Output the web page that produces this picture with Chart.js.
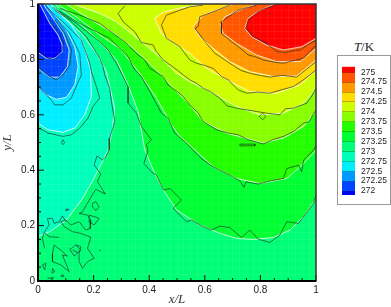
<!DOCTYPE html>
<html>
<head>
<meta charset="utf-8">
<script src="https://cdn.jsdelivr.net/npm/chart.js@4"></script>
<style>
  html, body { margin: 0; padding: 0; background: #fff; }
  #wrap { position: relative; width: 391px; height: 307px; overflow: hidden; }
  #plot { position: absolute; left: 0; top: 0; }
  #bar { position: absolute; left: 337px; top: 56px; }
  #frame { position: absolute; left: 337px; top: 55px; width: 52px; height: 148px; border: 1px solid #999; }
  #unit { position: absolute; left: 337px; top: 39px; width: 54px; text-align: center; font: 13px "Liberation Serif", serif; color: #222; }
</style>
</head>
<body>
<div id="wrap">
  <canvas id="plot" width="325" height="307"></canvas>
  <div id="unit"><i>T</i>/K</div>
  <div id="frame"></div>
  <canvas id="bar" width="54" height="148"></canvas>
</div>
<script>
const axisLabels = ["0", "0.2", "0.4", "0.6", "0.8", "1"];
const levels = [275, 274.75, 274.5, 274.25, 274, 273.75, 273.5, 273.25, 273, 272.75, 272.5, 272.25, 272];
const levelLabels = ["275", "274.75", "274.5", "274.25", "274", "273.75", "273.5", "273.25", "273", "272.75", "272.5", "272.25", "272"];
const bandColors = ["#ff0000", "#ff5500", "#ff9900", "#ffdd00", "#ccff00", "#88ff00", "#22ff00", "#00ff33", "#00ff77", "#00ffbb", "#00eeff", "#0099ff", "#0044ff", "#0000ff"];

// smooth contours, warm side, from the top edge to the right edge
const w275 = [[.853,1],[.8,.978],[.756,.948],[.744,.912],[.768,.882],[.822,.852],[.883,.834],[.949,.846],[1,.876]];
const w27475 = [[.786,1],[.726,.978],[.672,.954],[.657,.924],[.666,.894],[.714,.858],[.786,.816],[.858,.792],[.943,.792],[1,.84]];
const w2745 = [[.702,1],[.642,.978],[.594,.96],[.558,.918],[.582,.882],[.63,.84],[.69,.792],[.762,.756],[.847,.738],[.931,.74],[1,.798]];
const w27425 = [[.6,1],[.51,.985],[.45,.97],[.42,.948],[.444,.894],[.474,.868],[.546,.822],[.606,.768],[.69,.72],[.762,.684],[.858,.678],[.943,.708],[1,.762]];
const w274 = [[.126,1],[.222,.966],[.282,.936],[.342,.888],[.438,.81],[.498,.75],[.546,.72],[.63,.678],[.714,.63],[.798,.6],[.883,.606],[.955,.642],[1,.696]];
const w27375 = [[.1,1],[.222,.924],[.282,.888],[.342,.84],[.426,.762],[.498,.684],[.546,.636],[.594,.576],[.678,.534],[.81,.498],[.883,.516],[.955,.558],[1,.612]];
const w2735 = [[.07,1],[.15,.945],[.222,.888],[.294,.84],[.366,.75],[.426,.66],[.48,.564],[.51,.522],[.546,.49],[.63,.412],[.714,.37],[.798,.352],[.895,.37],[.955,.424],[1,.472]];
const w27325 = [[.06,1],[.15,.93],[.222,.864],[.282,.798],[.324,.708],[.36,.612],[.384,.473],[.415,.4],[.451,.328],[.499,.256],[.582,.202],[.654,.172],[.714,.154],[.775,.15],[.847,.157],[.907,.184],[.955,.232],[1,.298]];
// smooth contours, cold side, from the left edge to the top edge
const w273 = [[0,.16],[.042,.178],[.102,.22],[.156,.292],[.198,.364],[.228,.424],[.252,.472],[.268,.55],[.276,.624],[.246,.756],[.21,.822],[.156,.894],[.096,.948],[.048,1]];
const w27275 = [[0,.57],[.036,.546],[.09,.537],[.132,.552],[.168,.6],[.192,.666],[.189,.762],[.162,.858],[.12,.924],[.078,.966],[.042,1]];
const w2725 = [[0,.7],[.03,.672],[.066,.656],[.102,.663],[.132,.708],[.144,.774],[.132,.846],[.102,.906],[.066,.954],[.03,1]];
const w27225 = [[0,.768],[.042,.736],[.078,.736],[.106,.774],[.112,.834],[.09,.894],[.054,.948],[.018,1]];
const w272 = [[0,.825],[.03,.804],[.06,.804],[.087,.828],[.087,.852],[.072,.888],[.042,.93],[.006,1]];

// jagged contours
const d275 = [[.853,.996],[.8,.978],[.756,.943],[.748,.912],[.775,.882],[.822,.858],[.859,.828],[.889,.825],[.925,.832],[.943,.834],[.975,.855],[1,.87]];
const d27475 = [[.786,.996],[.72,.978],[.66,.936],[.66,.894],[.696,.864],[.72,.846],[.756,.816],[.78,.81],[.81,.798],[.85,.79],[.883,.786],[.92,.796],[.955,.804],[1,.852]];
const d2745 = [[.69,.996],[.63,.972],[.582,.954],[.576,.918],[.564,.912],[.606,.858],[.636,.822],[.66,.806],[.708,.774],[.73,.76],[.762,.75],[.8,.742],[.834,.736],[.88,.742],[.931,.736],[.96,.76],[1,.792]];
const d27425 = [[.594,.996],[.546,.99],[.462,.96],[.444,.924],[.462,.876],[.51,.846],[.546,.798],[.57,.786],[.6,.778],[.63,.768],[.66,.738],[.684,.726],[.72,.69],[.75,.678],[.79,.682],[.834,.678],[.875,.69],[.919,.702],[.96,.73],[1,.762]];
const d274 = [[.312,.993],[.288,.966],[.306,.936],[.348,.9],[.372,.861],[.414,.852],[.426,.828],[.45,.798],[.492,.768],[.546,.726],[.57,.714],[.594,.696],[.62,.684],[.654,.66],[.68,.632],[.714,.624],[.75,.618],[.786,.612],[.822,.606],[.87,.6],[.89,.622],[.919,.624],[.945,.634],[.967,.642],[.985,.668],[1,.696]];
const d27375 = [[.078,.984],[.15,.96],[.222,.93],[.27,.894],[.312,.864],[.354,.822],[.384,.798],[.402,.768],[.45,.738],[.468,.708],[.516,.672],[.546,.636],[.575,.608],[.594,.576],[.642,.546],[.684,.534],[.72,.528],[.756,.51],[.81,.495],[.85,.512],[.883,.522],[.92,.54],[.955,.57],[.975,.575],[1,.618]];
const d2735 = [[.075,.975],[.15,.93],[.222,.894],[.258,.876],[.294,.84],[.324,.81],[.348,.762],[.372,.738],[.402,.684],[.444,.606],[.468,.588],[.492,.534],[.534,.498],[.558,.472],[.59,.44],[.63,.412],[.69,.382],[.726,.362],[.741,.338],[.748,.358],[.792,.35],[.834,.361],[.883,.37],[.895,.406],[.937,.418],[.949,.394],[.955,.436],[.991,.472],[1,.49]];
const d27325 = [[.054,.988],[.138,.93],[.222,.864],[.252,.834],[.282,.786],[.324,.702],[.324,.642],[.354,.606],[.372,.558],[.408,.51],[.39,.492],[.396,.473],[.381,.424],[.408,.394],[.426,.382],[.451,.328],[.475,.334],[.516,.292],[.486,.262],[.534,.214],[.552,.22],[.594,.196],[.624,.184],[.654,.198],[.69,.193],[.732,.157],[.762,.184],[.792,.151],[.834,.139],[.87,.166],[.895,.214],[.937,.208],[.991,.28],[1,.31]];
const d273 = [[.06,.978],[.114,.942],[.174,.882],[.222,.804],[.234,.774],[.24,.744],[.258,.696],[.264,.648],[.276,.576],[.258,.516],[.256,.473],[.244,.449],[.232,.437],[.212,.451],[.202,.419],[.226,.386],[.214,.359],[.242,.314],[.208,.331],[.188,.298],[.16,.25],[.148,.244],[.178,.238],[.19,.22],[.188,.19],[.172,.184],[.148,.214],[.118,.202],[.1,.22],[.082,.214],[.094,.196],[.124,.178],[.154,.172],[.19,.158],[.178,.118],[.202,.082],[.178,.07],[.16,.046],[.148,.07],[.148,.1],[.154,.124],[.136,.13]];
const d27275 = [[.03,.99],[.102,.924],[.156,.87],[.186,.786],[.192,.756],[.21,.702],[.222,.66],[.198,.63],[.18,.588],[.15,.552],[.12,.528],[.09,.522],[.036,.534],[.004,.552]];
const d2725 = [[.066,.948],[.114,.894],[.15,.822],[.156,.744],[.132,.69],[.12,.66],[.09,.636],[.06,.636],[.042,.66],[0,.702]];
const d27225 = [[.06,.942],[.096,.894],[.12,.834],[.114,.78],[.09,.744],[.066,.726],[.042,.738],[.004,.768]];
const d272 = [[.042,.942],[.078,.894],[.093,.858],[.084,.828],[.06,.8],[.036,.804],[.004,.828]];
const islands = [
  [[.196,.28],[.208,.286],[.22,.268],[.208,.254],[.196,.268],[.196,.28]],
  [[.184,.238],[.22,.226],[.202,.202],[.184,.214],[.184,.238]],
  [[.115,.114],[.136,.13],[.154,.112],[.13,.09],[.115,.114]],
  [[.124,.112],[.145,.102]],
  [[.034,.226],[.052,.226],[.058,.208],[.076,.214],[.088,.235],[.1,.214]],
  [[.034,.226],[.04,.202],[.022,.175]],
  [[.022,.175],[.04,.16],[.076,.157]],
  [[.022,.175],[.016,.154],[.024,.118]],
  [[.058,.13],[.052,.1],[.052,.07],[.082,.058],[.112,.034],[.088,.094],[.106,.09],[.088,.106],[.058,.13]],
  [[.016,.058],[.028,.064],[.024,.04],[.016,.058]],
  [[.052,.046],[.06,.034],[.05,.028],[.052,.046]],
  [[.088,.024],[.094,.016],[.082,.018],[.088,.024]],
  [[.1,.259],[.112,.259],[.1,.253],[.1,.259]],
  [[.034,.01],[.058,.012]],
  [[.22,.11],[.226,.11]],
  [[.09,.51],[.096,.5],[.09,.492],[.084,.5],[.09,.51]],
  [[.808,.606],[.82,.594],[.808,.582],[.796,.594],[.808,.606]],
  [[.726,.494],[.78,.494],[.78,.488],[.726,.488],[.726,.494]]
];

const warmContours = [w27325, w2735, w27375, w274, w27425, w2745, w27475, w275];
const warmColors = ["#00ff33", "#22ff00", "#88ff00", "#ccff00", "#ffdd00", "#ff9900", "#ff5500", "#ff0000"];
const coldContours = [w273, w27275, w2725, w27225, w272];
const coldColors = ["#00ffbb", "#00eeff", "#0099ff", "#0044ff", "#0000ff"];
const jagged = [d275, d27475, d2745, d27425, d274, d27375, d2735, d27325, d273, d27275, d2725, d27225, d272].concat(islands);

function pts(list) {
  return list.map(function (p) { return { x: p[0], y: p[1] }; });
}

// closed along the top edge, so every band starts at x=0 and ends at x=1
function band(list, color) {
  return { data: pts([[0, 1]].concat(list, [[1, 1]])), fill: "shape", backgroundColor: color, borderWidth: 0, pointRadius: 0 };
}
function contour(list, color, width) {
  return { data: pts(list), fill: false, borderColor: color, borderWidth: width, pointRadius: 0 };
}

let sets = [band([[0, 0], [1, 0]], "#00ff77")];
warmContours.forEach(function (c, i) { sets.push(band(c, warmColors[i])); });
coldContours.forEach(function (c, i) { sets.push(band(c, coldColors[i])); });
warmContours.concat(coldContours).forEach(function (c) { sets.push(contour(c, "rgba(255,255,255,0.85)", 0.9)); });
jagged.forEach(function (c) { sets.push(contour(c, "rgba(20,40,30,0.8)", 0.8)); });
sets.reverse();

// inward ticks and the frame round the field
const frameTicks = {
  id: "frameTicks",
  afterDraw: function (chart) {
    const c = chart.ctx, a = chart.chartArea, sx = chart.scales.x, sy = chart.scales.y;
    c.save();
    c.strokeStyle = "#111";
    c.lineWidth = 1;
    for (let i = 0; i <= 20; i++) {
      const len = i % 4 === 0 ? 6 : 3;
      const px = sx.getPixelForValue(i / 20), py = sy.getPixelForValue(i / 20);
      c.beginPath(); c.moveTo(px, a.bottom); c.lineTo(px, a.bottom - len); c.stroke();
      c.beginPath(); c.moveTo(a.left, py); c.lineTo(a.left + len, py); c.stroke();
    }
    c.lineWidth = 1.5;
    c.strokeStyle = "#333";
    c.strokeRect(a.left, a.top, a.right - a.left, a.bottom - a.top);
    c.lineWidth = 2;
    c.strokeStyle = "#000";
    c.beginPath(); c.moveTo(a.left, a.top); c.lineTo(a.left, a.bottom); c.lineTo(a.right, a.bottom); c.stroke();
    c.restore();
  }
};

function axis(titleText, fitSide) {
  return {
    type: "linear",
    min: 0,
    max: 1,
    afterFit: function (s) {
      s.paddingLeft = 0; s.paddingRight = 0; s.paddingTop = 0; s.paddingBottom = 0;
      if (fitSide === "x") s.height = 26; else s.width = 38;
    },
    border: { display: false },
    grid: { color: "rgba(255,255,255,0.06)", lineWidth: 1, drawTicks: false, z: 1 },
    ticks: {
      stepSize: 0.025,
      autoSkip: false,
      maxRotation: 0,
      padding: 3,
      color: "#222",
      font: { family: "Liberation Sans", size: 10 },
      callback: function (v, i) { return i % 8 === 0 ? axisLabels[i / 8] : ""; }
    },
    title: {
      display: true,
      text: titleText,
      color: "#333",
      padding: 0,
      font: { family: "Liberation Serif", style: "italic", size: 13 }
    }
  };
}

new Chart(document.getElementById("plot").getContext("2d"), {
  type: "line",
  data: { datasets: sets },
  options: {
    responsive: false,
    animation: false,
    events: [],
    layout: { padding: { top: 4, right: 9 } },
    plugins: { legend: { display: false }, tooltip: { enabled: false } },
    scales: { x: axis("x/L", "x"), y: axis("y/L", "y") }
  },
  plugins: [frameTicks]
});

// colour key: one floating bar per band
const barTops = [275.14].concat(levels);
const barBottoms = levels.concat([271.9]);

new Chart(document.getElementById("bar").getContext("2d"), {
  type: "bar",
  data: {
    labels: [""],
    datasets: bandColors.map(function (col, i) {
      return { data: [[barBottoms[i], barTops[i]]], backgroundColor: col, barPercentage: 1, categoryPercentage: 1, grouped: false };
    })
  },
  options: {
    responsive: false,
    animation: false,
    events: [],
    layout: { padding: { left: 5, top: 10.7, bottom: 9, right: 0 } },
    plugins: { legend: { display: false }, tooltip: { enabled: false } },
    scales: {
      x: { display: false },
      y: {
        position: "right",
        min: 271.9,
        max: 275.14,
        afterBuildTicks: function (s) { s.ticks = levels.map(function (v) { return { value: v }; }); },
        afterFit: function (s) { s.width = 36; s.paddingTop = 0; s.paddingBottom = 0; },
        border: { display: false },
        grid: { color: "rgba(0,0,0,0.25)", drawTicks: false, z: 1 },
        ticks: {
          autoSkip: false,
          padding: 6,
          color: "#222",
          font: { family: "Liberation Sans", size: 8.5 },
          callback: function (v, i) { return levelLabels[i]; }
        }
      }
    }
  }
});
</script>
</body>
</html>
